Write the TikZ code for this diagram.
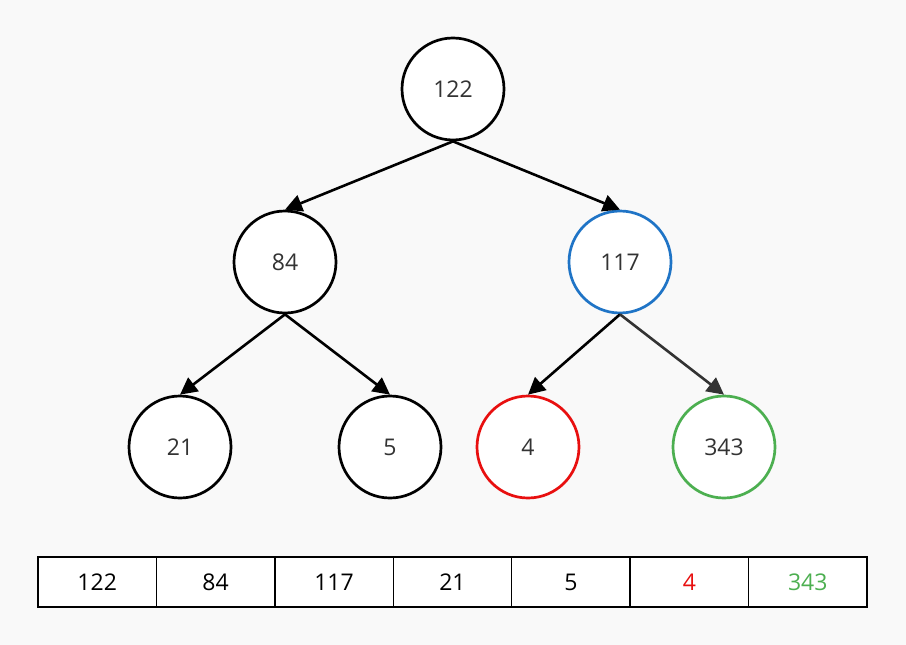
\documentclass[tikz,border=0pt]{standalone}
\usepackage{fontspec}
\setmainfont{Open Sans}
\usetikzlibrary{arrows.meta,positioning,backgrounds}
\definecolor{bgcol}{HTML}{F9F9F9}
\definecolor{txtgray}{HTML}{333333}
\definecolor{hlblue}{HTML}{1F74C6}
\definecolor{hlred}{HTML}{E80F0F}
\definecolor{hlgreen}{HTML}{4CAF50}

\begin{document}
\begin{tikzpicture}[
  x=1pt, y=-1pt,
  font=\fontsize{23}{28}\selectfont,
  vert/.style={circle, draw, line width=2.7pt, fill=white, minimum size=102pt, inner sep=0pt, text=txtgray},
  cell/.style={rectangle, draw, line width=1.4pt, minimum width=118.43pt, minimum height=50pt, inner sep=0pt, outer sep=0pt},
  arrow/.style={-{Triangle[length=17pt,width=17pt]}, line width=2.6pt}
]
  % Tree: three levels
  \node[vert] (root) at (453,89) {122};
  \node[vert] (n84) at (285,262) {84};
  \node[vert, draw=hlblue] (n117) at (620,262) {117};
  \node[vert] (n21) at (180,447) {21};
  \node[vert] (n5) at (390,447) {5};
  \node[vert, draw=hlred] (n4) at (528,447) {4};
  \node[vert, draw=hlgreen] (n343) at (724,447) {343};

  % edges parent -> child
  \draw[arrow] (root.south) -- (n84.north);
  \draw[arrow] (root.south) -- (n117.north);
  \draw[arrow] (n84.south) -- (n21.north);
  \draw[arrow] (n84.south) -- (n5.north);
  \draw[arrow] (n117.south) -- (n4.north);
  \draw[arrow, draw=txtgray, fill=txtgray] (n117.south) -- (n343.north);

  % Array below the tree, cells side by side
  \node[cell] (a0) at (97.2,582) {122};
  \node[cell, right=0pt of a0] (a1) {84};
  \node[cell, right=0pt of a1] (a2) {117};
  \node[cell, right=0pt of a2] (a3) {21};
  \node[cell, right=0pt of a3] (a4) {5};
  \node[cell, right=0pt of a4, text=hlred] (a5) {4};
  \node[cell, right=0pt of a5, text=hlgreen] (a6) {343};

  % page background and white strip under the array
  \begin{scope}[on background layer]
    \fill[bgcol] (0,0) rectangle (906,645);
    \fill[white] (a0.north west) rectangle (a6.south east);
  \end{scope}
\end{tikzpicture}
\end{document}
